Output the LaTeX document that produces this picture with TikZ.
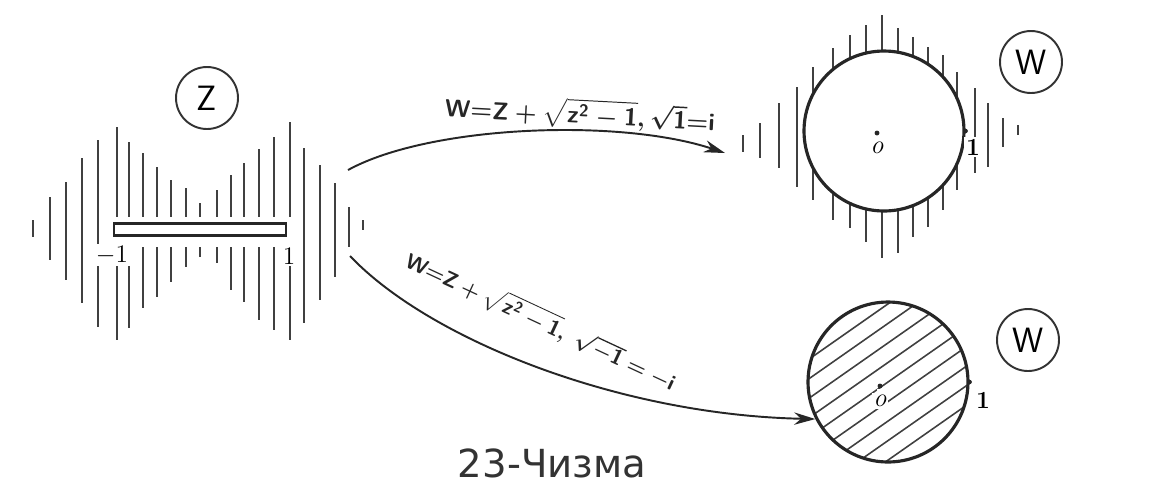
\documentclass[tikz,border=0pt]{standalone}
\usepackage{fontspec}
\usepackage{graphicx}
\newfontfamily\capfont{DejaVu Sans}
\usetikzlibrary{arrows.meta}
\begin{document}
\begin{tikzpicture}[x=0.02cm,y=-0.02cm,
  hatch/.style={line width=1.1pt, draw=black!75},
  disk/.style={circle, draw=black!85, line width=1.8pt, minimum size=3.2cm, inner sep=0pt},
  tag/.style={circle, draw=black!80, line width=1.1pt, minimum size=1.24cm, inner sep=0pt, font=\fontsize{20}{22}\selectfont\sffamily},
  conn/.style={line width=1.1pt, draw=black!85, -{Stealth[length=12pt,width=7pt]}},
  num/.style={font=\fontsize{14}{16}\selectfont\bfseries, inner sep=1pt},
  formula/.style={inner sep=0pt, text=black!85}]
\useasboundingbox (0,0) rectangle (1150,485);
\fill[white] (0,0) rectangle (1150,485);

% ---- z-plane: hatched plane with slit [-1,1]
\foreach \x/\t/\b in {33/220/237, 50/197/260, 66/182/280, 82/158/303, 98/140/327,
                       304/148/323, 320/165/300, 335/183/277, 349/207/247, 363/220/230}
  \draw[hatch] (\x,\t) -- (\x,\b);
\foreach \x/\t/\b in {117/127/340, 129/142/328, 143/153/308, 157/167/297, 171/180/282,
                       186/188/267, 200/203/257, 217/190/263, 231/175/290, 244/163/302,
                       259/149/320, 274/137/330, 290/122/340}
  \draw[hatch] (\x,\t) -- (\x,217) (\x,247) -- (\x,\b);
\node[draw=black!85, line width=1.6pt, fill=white, minimum width=3.44cm, minimum height=0.24cm, inner sep=0pt] (slit) at (200,229.5) {};
\node[num, fill=white] (m1) at (112,255) {$-1$};
\node[num, fill=white] (p1) at (289,256) {$1$};
\node[tag] (zt) at (207,98) {Z};

% ---- upper w-plane: exterior of unit disk
\foreach \x/\t/\b in {743/135/152, 760/123/158, 779/103/168, 797/87/187, 813/67/200,
                       833/48/220, 850/35/228, 866/25/242, 882/15/258, 898/28/253,
                       913/37/237, 928/47/227, 943/55/210, 957/72/190, 975/88/173,
                       988/103/167, 1003/118/147, 1018/125/135}
  \draw[hatch] (\x,\t) -- (\x,\b);
\node[disk, fill=white] (disk1) at (884,131) {};
\fill[black!85] (disk1.east) circle (1.3pt);
\fill[black!85] (877,133) circle (1.4pt);
\node[font=\fontsize{15}{17}\selectfont\itshape, inner sep=0pt] (o1) at (877,148) {o};
\node[num, fill=white] (q1) at (973,147) {1};
\node[tag] (w1) at (1031,62) {W};

% ---- lower w-plane: interior of unit disk
\begin{scope}
  \clip (888,382) circle (80);
  \foreach \k in {-6,...,6}
    \draw[line width=0.9pt, black!75] ({888+\k*16*0.574-100},{382+\k*16*0.819+70}) -- ++(200,-140);
\end{scope}
\node[disk] (disk2) at (888,382) {};
\fill[black!85] (disk2.east) circle (1.3pt);
\node[fill=white, inner sep=1.5pt] (c2) at (880,392) {};
\fill[black!85] (880,386) circle (1.4pt);
\node[font=\fontsize{15}{17}\selectfont\itshape, fill=white, inner sep=1pt] (o2) at (880,401) {o};
\node[num] (q2) at (983,400) {1};
\node[tag] (w2) at (1028,340) {W};

% ---- mappings
\coordinate (s1) at (348,170);
\coordinate (e1) at (725,153);
\coordinate (s2) at (350,256);
\draw[conn] (s1) .. controls (430,125) and (620,118) .. (e1);
\draw[conn] (s2) .. controls (430,340) and (620,415) .. (disk2.207);
\node[formula, rotate=-3] (f1) at (580,114) {\resizebox{5.4cm}{!}{\boldmath$\mathsf{W}{=}\mathsf{Z}+\sqrt{\mathsf{z}^{\mathsf{2}}-\mathsf{1}},\sqrt{\mathsf{1}}{=}\mathsf{i}$}};
\node[formula, rotate=-25] (f2) at (541,321) {\resizebox{5.9cm}{!}{\boldmath$\mathsf{W}{=}\mathsf{Z}+\sqrt{\mathsf{z}^{\mathsf{2}}-\mathsf{1}},\ \sqrt{-\mathsf{1}}=-\mathsf{i}$}};

% ---- caption
\node[font=\capfont\fontsize{22}{24}\selectfont, text=black!80] (cap) at (552,463) {23-Чизма};
\end{tikzpicture}
\end{document}
